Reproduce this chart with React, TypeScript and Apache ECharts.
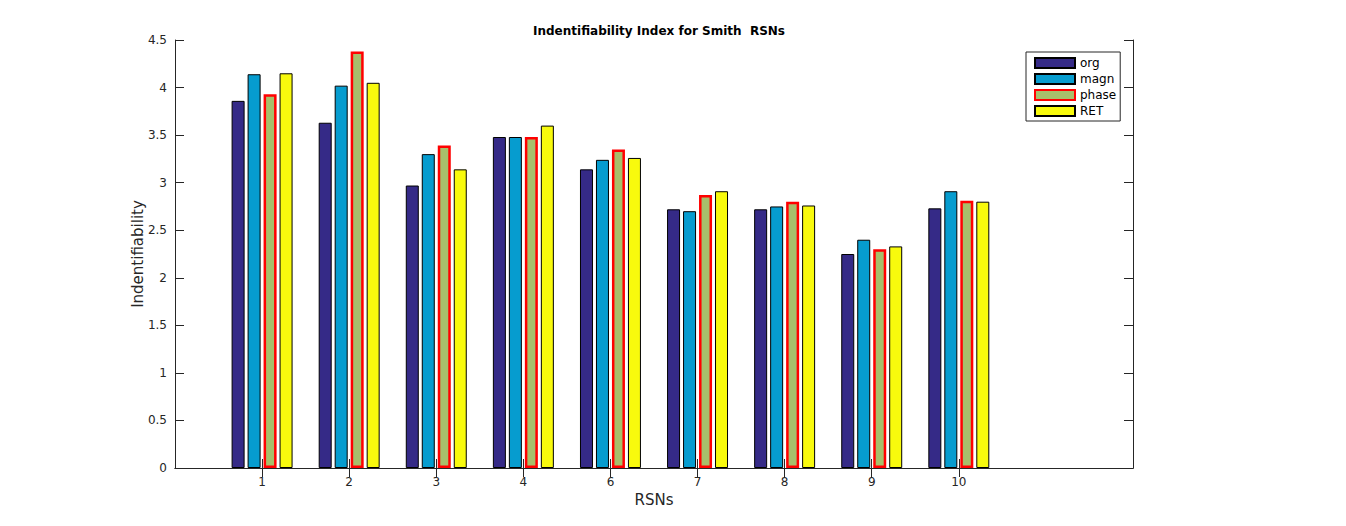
import React, { useEffect, useRef } from "react";
import * as echarts from "echarts";

const categories = ["", "1", "2", "3", "4", "6", "7", "8", "9", "10", " ", "  "];
const seriesNames = ["org", "magn", "phase", "RET"];
const orgValues = [3.86, 3.63, 2.97, 3.48, 3.14, 2.72, 2.72, 2.25, 2.73];
const magnValues = [4.14, 4.02, 3.3, 3.48, 3.24, 2.7, 2.75, 2.4, 2.91];
const phaseValues = [3.93, 4.38, 3.39, 3.48, 3.35, 2.87, 2.8, 2.3, 2.81];
const retValues = [4.15, 4.05, 3.14, 3.6, 3.26, 2.91, 2.76, 2.33, 2.8];

const pad = (arr: number[]) => [null, ...arr, null, null];

const FONT = "DejaVu Sans";
const AX = "#262626";

export default function App() {
  const ref = useRef<HTMLDivElement>(null);
  useEffect(() => {
    if (!ref.current) return;
    const chart = echarts.init(ref.current, undefined, { renderer: "svg" });
    const tickInterval = (_i: number, v: string) => v.trim() !== "";
    const baseX = {
      type: "category" as const,
      data: categories,
      boundaryGap: false,
      axisLine: { show: true, lineStyle: { color: AX, width: 1 } },
      axisTick: { show: true, inside: true, length: 9, interval: tickInterval, lineStyle: { color: AX } },
      splitLine: { show: false },
    };
    const baseY = {
      type: "value" as const,
      min: 0,
      max: 4.5,
      interval: 0.5,
      axisLine: { show: true, lineStyle: { color: AX, width: 1 } },
      axisTick: { show: true, inside: true, length: 9, lineStyle: { color: AX } },
      splitLine: { show: false },
    };
    const bar = (name: string, data: number[], color: string, border: string, bw: number) => ({
      name,
      type: "bar" as const,
      data: pad(data),
      barWidth: 13,
      barGap: "23%",
      itemStyle: { color, borderColor: border, borderWidth: bw },
    });
    chart.setOption({
      animation: false,
      backgroundColor: "#ffffff",
      textStyle: { fontFamily: FONT },
      title: {
        text: "Indentifiability Index for Smith  RSNs",
        left: 654,
        textAlign: "center",
        top: 20,
        textStyle: { fontFamily: FONT, fontSize: 12, fontWeight: "bold", color: "#000" },
      },
      legend: {
        data: seriesNames,
        orient: "vertical",
        left: 1026,
        top: 52,
        icon: "rect",
        itemWidth: 40,
        itemHeight: 10,
        itemGap: 4,
        padding: [5, 4, 4, 8],
        borderColor: AX,
        borderWidth: 1,
        backgroundColor: "#fff",
        borderRadius: 0,
        textStyle: { fontFamily: FONT, fontSize: 12, color: "#000" },
        selectedMode: false,
      },
      grid: { left: 175, right: 213, top: 40, bottom: 58, containLabel: false },
      xAxis: [
        {
          ...baseX,
          position: "bottom",
          name: "RSNs",
          nameLocation: "middle",
          nameGap: 24,
          nameMoveOverlap: false,
          nameTextStyle: { fontFamily: FONT, fontSize: 15, color: AX },
          axisLabel: { interval: 0, fontFamily: FONT, fontSize: 12, color: AX, margin: 8 },
        },
        {
          ...baseX,
          position: "top",
          axisLabel: { show: false },
        },
      ],
      yAxis: [
        {
          ...baseY,
          position: "left",
          name: "Indentifiability",
          nameLocation: "middle",
          nameGap: 30,
          nameMoveOverlap: false,
          nameTextStyle: { fontFamily: FONT, fontSize: 15, color: AX },
          axisLabel: { fontFamily: FONT, fontSize: 12, color: AX, margin: 8 },
        },
        {
          ...baseY,
          position: "right",
          axisLabel: { show: false },
        },
      ],
      series: [
        bar("org", orgValues, "#352a87", "#000", 1),
        bar("magn", magnValues, "#069ccf", "#000", 1),
        bar("phase", phaseValues, "#a7bf6b", "#ff0000", 2.5),
        bar("RET", retValues, "#f8fa0d", "#000", 1),
      ],
    });
    return () => chart.dispose();
  }, []);
  return (
    <div
      ref={ref}
      style={{ position: "fixed", left: 0, top: 0, width: 1346, height: 526 }}
    />
  );
}
